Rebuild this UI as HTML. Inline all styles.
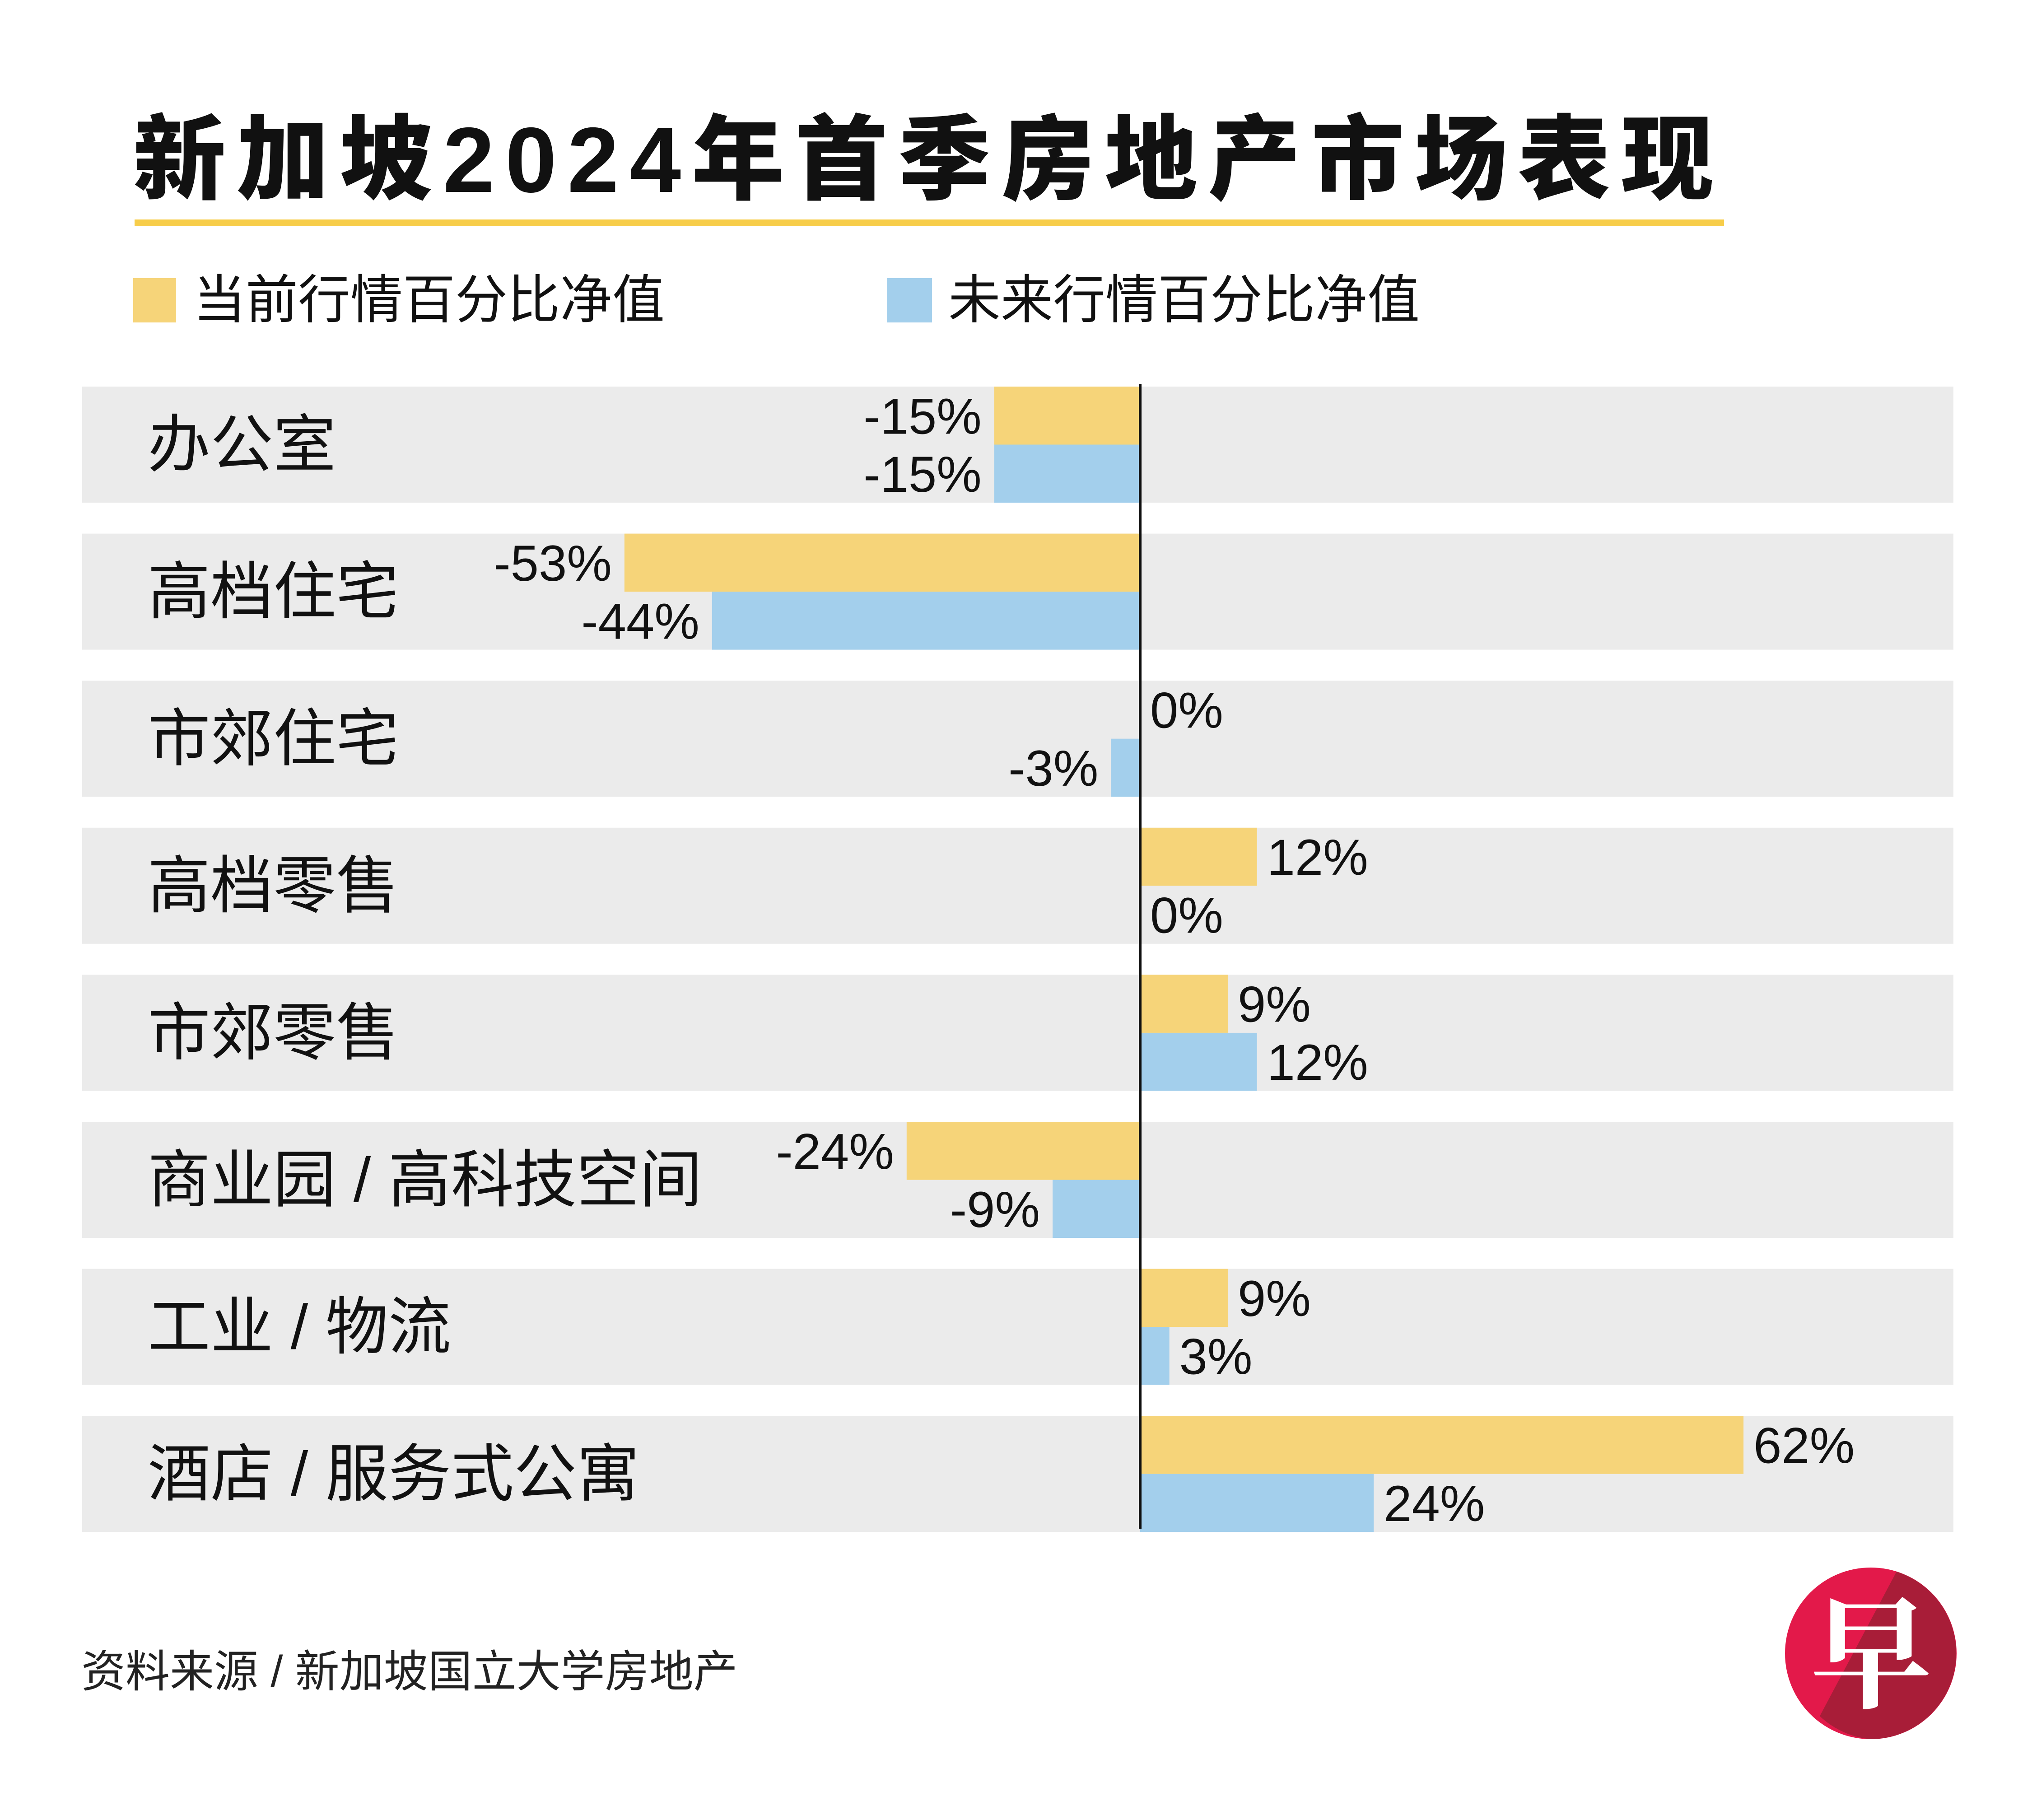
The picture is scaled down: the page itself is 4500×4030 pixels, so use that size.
<!DOCTYPE html>
<html><head><meta charset="utf-8">
<style>
html,body{margin:0;padding:0;background:#fff;}
svg{display:block;}
text{font-family:"Liberation Sans","Noto Sans CJK SC",sans-serif;}
</style></head>
<body>
<svg id="chart" width="4500" height="4030" viewBox="0 0 4500 4030" xmlns="http://www.w3.org/2000/svg">
<text x="295" y="425" font-size="205" font-weight="bold" fill="#111" style="font-family:'Liberation Sans','Noto Sans CJK SC',sans-serif;font-weight:900" textLength="3500">新加坡2024年首季房地产市场表现</text>
<rect x="298" y="486" width="3520" height="15" fill="#f7cd4a"/>
<rect x="295" y="616" width="95" height="98" fill="#f6d479"/>
<text x="428" y="704" font-size="116" fill="#111">当前行情百分比净值</text>
<rect x="1964" y="616" width="100" height="98" fill="#a3cfec"/>
<text x="2100" y="704" font-size="116" fill="#111">未来行情百分比净值</text>
<g id="rows"></g>
<line x1="2525" y1="850" x2="2525" y2="3385" stroke="#111" stroke-width="6"/>
<text x="180" y="3735" font-size="98" fill="#222">资料来源 / 新加坡国立大学房地产</text>
<g>
<ellipse cx="4143" cy="3661" rx="190" ry="190" fill="#e3194a"/>
<path d="M4200 3480 A190 190 0 0 1 4143 3851 A190 190 0 0 1 4030 3800 Z" fill="#a81d38"/>
<text x="4143" y="3760" font-size="270" text-anchor="middle" fill="#fff" style="font-family:'Noto Serif CJK SC',serif;font-weight:bold">早</text>
</g>
</svg>
<script>
const categories = ["办公室","高档住宅","市郊住宅","高档零售","市郊零售","商业园 / 高科技空间","工业 / 物流","酒店 / 服务式公寓"];
const currentValues = [-15,-53,0,12,9,-24,9,62];
const futureValues = [-15,-44,-3,0,12,-9,3,24];
const zeroX = 2525, pxPerPct = 21.55;
function xScale(v){ return zeroX + v*pxPerPct; }
const rowTop0 = 856, rowPitch = 325.6, rowH = 257;
const NS = "http://www.w3.org/2000/svg";
const g = document.getElementById('rows');
function el(tag, attrs){ const e=document.createElementNS(NS,tag); for(const k in attrs) e.setAttribute(k,attrs[k]); return e; }
categories.forEach((cat,i)=>{
  const top = rowTop0 + i*rowPitch;
  const band = el('rect',{x:182,y:top,width:4144,height:rowH,fill:'#ebebeb'});
  
  
  g.appendChild(band);
  const lab = el('text',{x:327,y:top+rowH/2+48,'font-size':139,fill:'#111'});
  lab.textContent = cat;
  
  
  g.appendChild(lab);
  [[currentValues[i],'#f6d479',0,'bar-current','value-label-current'],[futureValues[i],'#a3cfec',1,'bar-future','value-label-future']].forEach(([v,col,k,bn,ln])=>{
    const y = top + k*rowH/2;
    const x0 = Math.min(xScale(0),xScale(v)), w = Math.abs(xScale(v)-xScale(0));
    if(w>0){
      const b = el('rect',{x:x0,y:y,width:w,height:rowH/2,fill:col});
      
      
      g.appendChild(b);
    }
    const neg = v<0;
    const t = el('text',{x: neg? xScale(v)-28 : xScale(v)+22, y:y+rowH/4+40,'font-size':112,fill:'#111','text-anchor':neg?'end':'start'});
    t.textContent = v + '%';
    
    
    g.appendChild(t);
  });
});
</script>
</body></html>
